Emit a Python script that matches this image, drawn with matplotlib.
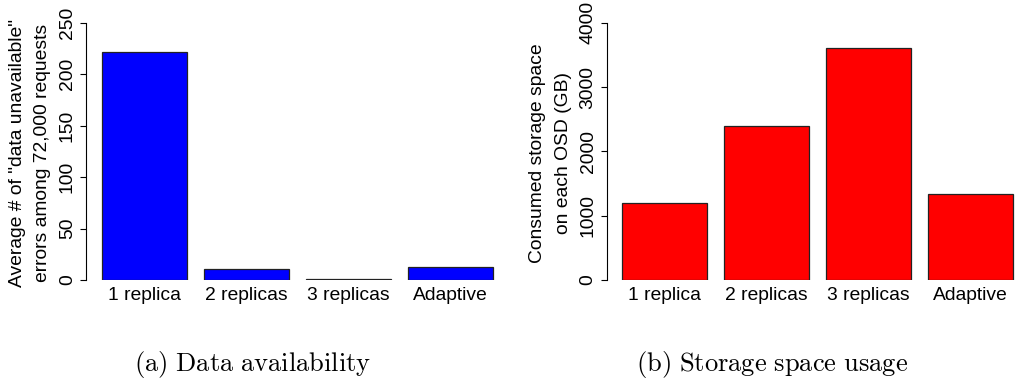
import matplotlib
matplotlib.use("Agg")
import matplotlib.pyplot as plt

categories = ["1 replica", "2 replicas", "3 replicas", "Adaptive"]
errors = [221.5, 10.4, 0.7, 12.3]
storage = [1200, 2400, 3600, 1340]
err_ticks = [0, 50, 100, 150, 200, 250]
sto_ticks = [0, 1000, 2000, 3000, 4000]

plt.rcParams['font.family'] = ['Liberation Sans', 'DejaVu Sans']
plt.rcParams['mathtext.fontset'] = 'cm'

W, H = 1016, 390
fig = plt.figure(figsize=(W / 100, H / 100), dpi=100)

FS = 13.9
centers = [0.7 + 1.2 * i for i in range(len(categories))]


def px_axes(x0, x1, y0, y1):
    return fig.add_axes([x0 / W, (H - y0) / H, (x1 - x0) / W, (y0 - y1) / H])


def style(ax, vals, ticks, color):
    ax.bar(centers, vals, width=1.0, color=color, edgecolor='#222222', linewidth=0.9)
    ax.set_xlim(0.016, 4.984)
    ax.set_ylim(0, ticks[-1])
    ax.set_yticks(ticks)
    ax.set_yticklabels([str(t) for t in ticks], rotation=90, va='center', fontsize=FS)
    ax.set_xticks(centers)
    ax.set_xticklabels(categories, fontsize=FS)
    ax.tick_params(axis='x', length=0, pad=5)
    ax.tick_params(axis='y', length=4.3, width=0.8, pad=3)
    for s in ['top', 'right', 'bottom']:
        ax.spines[s].set_visible(False)
    ax.spines['left'].set_bounds(ticks[0], ticks[-1])
    ax.spines['left'].set_linewidth(0.8)
    ax.patch.set_visible(False)


ax1 = px_axes(86.1, 508.3, 280, 22.7)
style(ax1, errors, err_ticks, '#0000ff')
ax2 = px_axes(606.7, 1028.3, 280, 22.7)
style(ax2, storage, sto_ticks, '#ff0000')

yc = (H - 153) / H
fig.text(18 / W, yc, 'Average # of "data unavailable"', rotation=90, ha='center', va='center', fontsize=FS)
fig.text(43 / W, yc, 'errors among 72,000 requests', rotation=90, ha='center', va='center', fontsize=FS)
fig.text(538 / W, yc, 'Consumed storage space', rotation=90, ha='center', va='center', fontsize=FS)
fig.text(563 / W, yc, 'on each OSD (GB)', rotation=90, ha='center', va='center', fontsize=FS)

capy = (H - 364) / H
fig.text(253 / W, capy, r'$\mathrm{(a)\ Data\ availability}$', ha='center', va='center', fontsize=19.1)
fig.text(772 / W, capy, r'$\mathrm{(b)\ Storage\ space\ usage}$', ha='center', va='center', fontsize=19.1)

fig.savefig('out.png', dpi=100)
